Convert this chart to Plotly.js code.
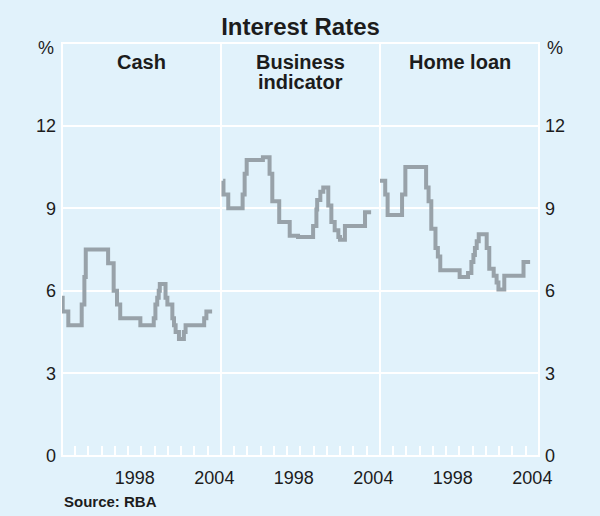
<!DOCTYPE html>
<html>
<head>
<meta charset="utf-8">
<script src="https://cdn.plot.ly/plotly-3.0.1.min.js"></script>
<style>
  html, body { margin: 0; padding: 0; background: #e1f2fb; }
  #chart { width: 600px; height: 516px; }
</style>
</head>
<body>
<div id="chart"></div>
<script>
// ---- Data ----
const panelTitles = [['Cash'], ['Business', 'indicator'], ['Home loan']];

const cashDates = ['1993-01-01','1993-01-20','1993-06-24','1994-06-28','1994-09-10','1994-10-18','1996-06-25','1996-11-25','1997-02-25','1997-05-25','1998-12-01','1999-12-05','2000-01-20','2000-03-10','2000-04-20','2000-05-20','2000-10-25','2000-12-15','2001-05-01','2001-06-15','2001-07-30','2001-10-30','2002-03-15','2002-05-01','2003-09-25','2003-11-25','2004-05-01'];
const cashRates = [5.75,5.25,4.75,5.5,6.5,7.5,7.0,6.0,5.5,5.0,4.75,5.0,5.5,5.75,6.0,6.25,5.75,5.5,5.0,4.75,4.5,4.25,4.5,4.75,5.0,5.25,5.25];

const bizDates = ['1993-03-01','1993-03-10','1993-07-20','1994-08-20','1994-10-15','1994-12-10','1996-03-01','1996-09-01','1996-11-15','1997-05-25','1998-03-10','1998-10-25','1999-12-15','2000-03-15','2000-04-05','2000-07-01','2000-09-20','2001-02-05','2001-05-01','2001-08-01','2001-11-10','2001-12-25','2002-05-10','2003-11-15','2004-05-01'];
const bizRates = [10.0,9.5,9.0,9.5,10.25,10.75,10.85,10.25,9.25,8.5,8.0,7.95,8.35,8.95,9.3,9.6,9.75,9.1,8.5,8.2,7.95,7.85,8.35,8.85,8.85];

const homeDates = ['1993-01-01','1993-05-25','1993-07-30','1994-09-01','1994-12-01','1996-06-25','1996-09-01','1996-11-15','1997-03-10','1997-05-15','1997-07-20','1999-01-05','1999-08-25','1999-11-25','2000-01-20','2000-03-01','2000-04-20','2000-06-15','2001-01-20','2001-04-01','2001-08-01','2001-10-20','2001-12-10','2002-05-20','2003-11-01','2004-05-01'];
const homeRates = [10.0,9.5,8.75,9.5,10.5,9.75,9.25,8.25,7.55,7.25,6.75,6.5,6.65,7.05,7.3,7.55,7.8,8.05,7.55,6.8,6.55,6.3,6.05,6.55,7.05,7.05];

const xRange = ['1993-01-01', '2005-01-01'];
const yearTicks = ['1994-01-01','1995-01-01','1996-01-01','1997-01-01','1998-01-01','1999-01-01','2000-01-01','2001-01-01','2002-01-01','2003-01-01','2004-01-01'];
const labelVals = ['1998-07-02', '2004-07-02'];
const labelText = ['1998', '2004'];
const yTicks = [0, 3, 6, 9, 12];

// ---- Styling ----
const FONT = 'Liberation Sans, Arial, Helvetica, sans-serif';
const BG = '#e1f2fb';
const LINE = '#98a2a9';
const TXT = '#1c1c1c';

function series(x, y, xa) {
  return { x: x, y: y, xaxis: xa, yaxis: 'y', type: 'scatter', mode: 'lines',
           line: { shape: 'hv', color: LINE, width: 4 }, hoverinfo: 'skip', showlegend: false };
}

const data = [
  series(cashDates, cashRates, 'x'),
  series(bizDates, bizRates, 'x2'),
  series(homeDates, homeRates, 'x3'),
  { x: [xRange[0]], y: [null], xaxis: 'x3', yaxis: 'y2', type: 'scatter', mode: 'lines', showlegend: false, hoverinfo: 'skip' }
];

function xaxis(domain) {
  return {
    domain: domain, anchor: 'y', type: 'date', range: xRange,
    showgrid: false, zeroline: false, showline: false,
    tickmode: 'array', tickvals: labelVals, ticktext: labelText,
    ticks: '', ticklabelstandoff: 9,
    tickfont: { family: FONT, size: 18, color: TXT },
    minor: { tickmode: 'array', tickvals: yearTicks, ticks: 'inside', ticklen: 10, tickwidth: 2, tickcolor: '#ffffff', showgrid: false },
    fixedrange: true
  };
}

const yBase = {
  range: [0, 15], tickmode: 'array', tickvals: yTicks, ticks: '',
  showline: false, zeroline: false,
  tickfont: { family: FONT, size: 18, color: TXT },
  ticklabelstandoff: 5, fixedrange: true
};

const panelCentres = [1/6, 0.5, 5/6];
const titleAnns = [];
panelTitles.forEach((lines, i) => {
  lines.forEach((t, j) => {
    titleAnns.push({
      text: '<b>' + t + '</b>', xref: 'paper', yref: 'paper', x: panelCentres[i], y: 1,
      xanchor: 'center', yanchor: 'top', yshift: -6 - 20 * j, showarrow: false,
      font: { family: FONT, size: 20, color: TXT }
    });
  });
});

const layout = {
  width: 600, height: 516,
  paper_bgcolor: BG, plot_bgcolor: BG,
  margin: { l: 62, r: 61, t: 43, b: 60 },
  title: { text: '<b>Interest Rates</b>', x: 0.5, xanchor: 'center', xref: 'paper',
           y: 1 - 27 / 516, yref: 'container', yanchor: 'middle',
           font: { family: FONT, size: 24, color: TXT } },
  xaxis: xaxis([0, 1/3]),
  xaxis2: xaxis([1/3, 2/3]),
  xaxis3: xaxis([2/3, 1]),
  yaxis: Object.assign({}, yBase, { anchor: 'x', side: 'left', showgrid: true, gridcolor: '#ffffff', gridwidth: 2 }),
  yaxis2: Object.assign({}, yBase, { anchor: 'x3', overlaying: 'y', side: 'right', showgrid: false }),
  shapes: [
    { type: 'rect', xref: 'paper', yref: 'paper', x0: 0, x1: 1, y0: 0, y1: 1, line: { color: '#ffffff', width: 2 }, layer: 'below' },
    { type: 'line', xref: 'paper', yref: 'paper', x0: 1/3, x1: 1/3, y0: 0, y1: 1, line: { color: '#ffffff', width: 2 }, layer: 'below' },
    { type: 'line', xref: 'paper', yref: 'paper', x0: 2/3, x1: 2/3, y0: 0, y1: 1, line: { color: '#ffffff', width: 2 }, layer: 'below' }
  ],
  annotations: titleAnns.concat([
    { text: '%', xref: 'paper', yref: 'paper', x: 0, y: 1, xanchor: 'right', yanchor: 'middle', xshift: -6, yshift: -5,
      showarrow: false, font: { family: FONT, size: 18, color: TXT } },
    { text: '%', xref: 'paper', yref: 'paper', x: 1, y: 1, xanchor: 'left', yanchor: 'middle', xshift: 6, yshift: -5,
      showarrow: false, font: { family: FONT, size: 18, color: TXT } },
    { text: '<b>Source: RBA</b>', xref: 'paper', yref: 'paper', x: 0, y: 0, xanchor: 'left', yanchor: 'middle', yshift: -45,
      showarrow: false, font: { family: FONT, size: 15, color: TXT } }
  ])
};

Plotly.newPlot('chart', data, layout, { displayModeBar: false, staticPlot: true });
</script>
</body>
</html>
